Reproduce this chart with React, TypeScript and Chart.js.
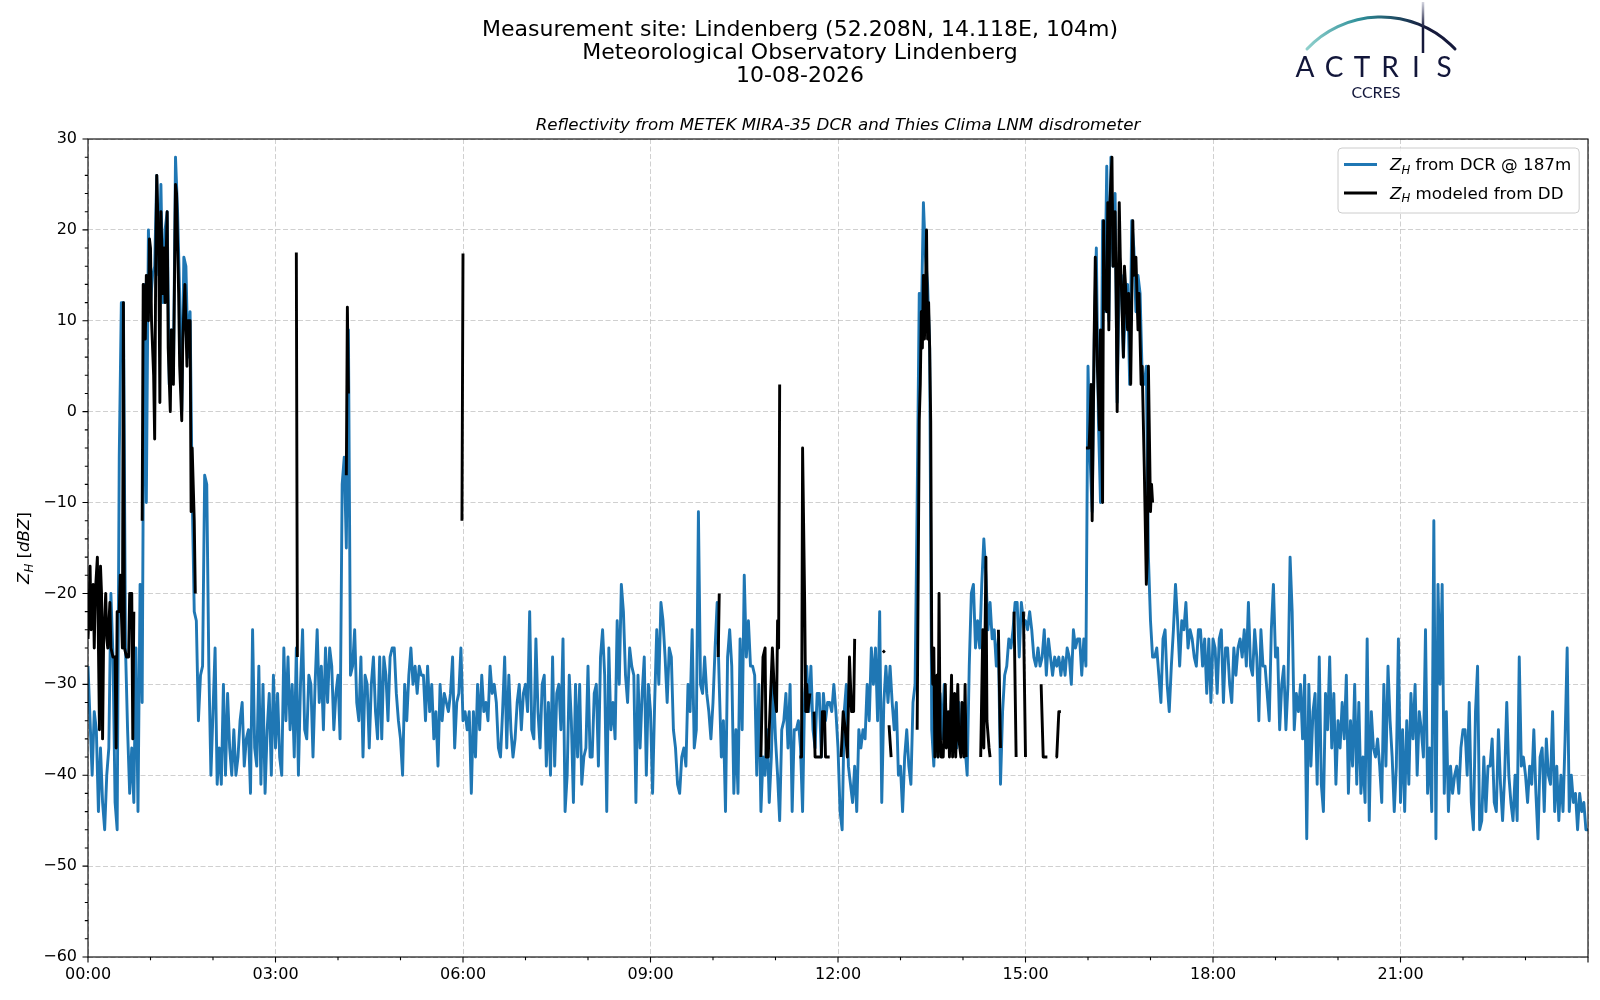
import React, { useEffect, useRef } from 'react';
import { Chart, registerables } from 'chart.js';

Chart.register(...registerables);

// Z_H from the DCR at 187 m, one value every 2 minutes from 00:00 (dBZ)
const dcrStepMin = 2;
const dcrZh = [
  // 00h
  -28, -34, -40, -33, -35, -44, -37, -43, -46, -40, -37, -20, -27, -43, -46, -5, 12, 12, -26, -35, -42, -37, -43, -26, -44, -19, -32, 14, -10, 20,
  // 01h
  12, 15, 16, 26, 15, 25, 12, 20, 22, 3, 9, 4, 28, 22, 13, 0, 17, 16, 6, 11, -9, -22, -23, -34, -29, -28, -7, -8, -28, -40,
  // 02h
  -33, -26, -41, -37, -41, -30, -40, -31, -37, -40, -35, -40, -38, -34, -32, -39, -36, -35, -42, -24, -37, -39, -28, -41, -30, -42, -35, -31, -40, -29,
  // 03h
  -37, -31, -38, -40, -26, -34, -27, -35, -30, -38, -26, -40, -30, -24, -35, -36, -29, -30, -38, -30, -24, -32, -28, -35, -26, -32, -26, -28, -35, -31,
  // 04h
  -29, -36, -8, -5, -15, 9, -29, -28, -24, -32, -34, -27, -38, -29, -30, -37, -30, -27, -33, -36, -27, -36, -27, -29, -34, -27, -26, -26, -31, -34,
  // 05h
  -36, -40, -30, -34, -29, -26, -30, -28, -31, -28, -29, -29, -34, -28, -33, -30, -36, -33, -39, -30, -34, -31, -32, -33, -31, -27, -37, -32, -31, -26,
  // 06h
  -34, -33, -35, -33, -42, -33, -38, -30, -35, -29, -33, -32, -34, -28, -31, -30, -32, -37, -38, -33, -27, -37, -29, -35, -38, -36, -32, -30, -35, -31,
  // 07h
  -30, -33, -22, -35, -36, -25, -33, -37, -30, -29, -39, -32, -40, -27, -39, -31, -30, -35, -25, -44, -40, -29, -34, -43, -30, -38, -30, -41, -38, -37,
  // 08h
  -28, -38, -38, -31, -30, -39, -27, -24, -29, -44, -26, -35, -32, -36, -23, -30, -19, -22, -29, -32, -26, -28, -29, -43, -29, -37, -31, -27, -40, -30,
  // 09h
  -33, -42, -32, -24, -30, -21, -23, -27, -32, -26, -27, -35, -37, -41, -42, -38, -37, -39, -30, -33, -24, -37, -35, -11, -30, -31, -27, -31, -33, -36,
  // 10h
  -32, -26, -21, -30, -38, -34, -44, -27, -24, -28, -42, -35, -42, -25, -35, -18, -27, -23, -28, -28, -29, -40, -30, -44, -38, -40, -35, -43, -38, -30,
  // 11h
  -36, -40, -45, -35, -34, -31, -37, -30, -44, -35, -35, -34, -37, -44, -31, -28, -33, -28, -35, -37, -31, -31, -38, -31, -34, -32, -32, -33, -30, -33,
  // 12h
  -37, -44, -46, -33, -30, -39, -41, -43, -39, -44, -35, -37, -35, -36, -30, -34, -26, -30, -26, -34, -22, -43, -32, -28, -32, -28, -32, -35, -32, -40,
  // 13h
  -39, -44, -38, -35, -39, -41, -32, -30, -10, 13, 10, 23, 17, 14, 7, -35, -39, -30, -38, -31, -36, -30, -34, -36, -33, -33, -32, -37, -32, -37,
  // 14h
  -34, -37, -40, -28, -20, -19, -26, -23, -26, -19, -14, -18, -24, -21, -25, -24, -28, -25, -41, -33, -29, -28, -25, -26, -24, -21, -21, -27, -21, -23,
  // 15h
  -23, -24, -22, -24, -27, -28, -26, -28, -27, -24, -29, -25, -27, -29, -27, -28, -27, -29, -27, -29, -26, -27, -30, -24, -26, -25, -25, -29, -25, -28,
  // 16h
  5, -5, -11, 8, 18, -1, -10, 21, 11, 27, 10, 28, 16, 24, 1, 15, 15, 6, 12, 14, 3, 21, 18, 11, 15, 13, 4, 3, 5, -16,
  // 17h
  -23, -27, -27, -26, -29, -32, -25, -24, -30, -33, -28, -24, -19, -23, -28, -23, -24, -21, -26, -24, -25, -27, -28, -24, -24, -28, -25, -31, -25, -32,
  // 18h
  -25, -26, -31, -25, -24, -32, -26, -26, -30, -32, -26, -29, -26, -25, -27, -24, -28, -21, -28, -29, -24, -27, -34, -24, -28, -28, -31, -34, -24, -19,
  // 19h
  -27, -26, -35, -30, -28, -35, -30, -16, -22, -35, -31, -33, -30, -36, -29, -47, -30, -39, -33, -31, -41, -27, -41, -44, -31, -35, -27, -37, -31, -41,
  // 20h
  -34, -37, -32, -36, -29, -42, -34, -39, -30, -41, -32, -42, -38, -43, -25, -45, -33, -37, -38, -36, -39, -43, -30, -39, -28, -34, -38, -44, -39, -25,
  // 21h
  -43, -35, -44, -34, -41, -31, -36, -30, -40, -33, -35, -38, -24, -42, -37, -44, -12, -47, -19, -30, -19, -42, -33, -44, -39, -42, -40, -39, -42, -37,
  // 22h
  -35, -35, -40, -32, -43, -46, -33, -28, -46, -45, -38, -44, -39, -39, -36, -43, -44, -35, -41, -45, -40, -32, -40, -43, -45, -40, -45, -27, -39, -38,
  // 23h
  -40, -43, -39, -41, -35, -42, -47, -38, -37, -44, -36, -40, -41, -33, -44, -39, -45, -40, -44, -36, -26, -44, -40, -43, -42, -46, -42, -44, -43, -46, -46,
];

// Z_H modeled from the disdrometer: minute of day and value, null = no rain
const ddMinutes = [
  0, 1, 2, 3, 5, 6, 7, 9, 11, 12, 13, 14, 15, 17, 18, 19, 21, 22, 24, 26, 27, 28, 30, 31, 33, 34, 35, 37, 39, 40, 42, 43, 44, 45,
  52, 53, 55, 56, 58, 59, 60, 61, 63, 64, 65, 66, 68, 69, 70, 72, 73, 74, 76, 77, 79, 80, 81, 82, 84, 85, 87, 88, 90, 91, 93, 95, 96, 98, 99, 100, 102, 103, 104,
  200, 201, 202,
  248, 249, 250, 251,
  359, 360, 361,
  605, 606, 607,
  646, 648, 650, 651, 653, 657, 659, 661, 662, 663, 664, 665,
  683, 685, 686, 688, 689, 690, 691, 693, 694,
  697, 698, 704, 705, 707, 708, 712, 713,
  723, 725, 727, 729, 731, 733, 735, 736, 737,
  763, 765, 766,
  769, 771, 772,
  796, 798, 799, 800, 801, 802, 803, 804, 805, 806, 807, 808, 809, 810, 811, 812, 813, 814, 815, 816, 817, 818, 819, 821, 823, 824, 826, 827, 829, 830, 832, 833, 835, 836, 838, 839, 841, 842, 843, 844,
  857, 859, 860, 862, 863, 865, 866, 867,
  874, 876, 877,
  889, 891, 892,
  898, 900, 901,
  915, 917, 921, 922,
  929, 930, 932, 934, 935,
  958, 961, 962, 963, 964, 966, 967, 969, 971, 972, 974, 975, 976, 978, 979, 980, 981, 983, 984, 986, 987, 988, 990, 991, 992, 994, 995, 996, 998, 999, 1000, 1001, 1003, 1004, 1006, 1008, 1009, 1011, 1012, 1014, 1016, 1017, 1018, 1020, 1021, 1022, 1023,
];
const ddZh = [
  -25, -22, -17, -24, -19, -26, -20, -16, -35, -17, -20, -36, -25, -20, -25, -26, -21, -26, -27, -27, -37, -22, -22, -18, -26, 12, -26, -27, -27, -20, -20, -36, -22, null,
  -12, 14, 8, 15, 10, 19, 18, 10, 4, -3, 16, 26, 17, 1, 22, 13, 18, 12, 22, 7, 0, 9, 4, 3, 25, 24, 13, 5, -1, 8, 14, 5, 10, 10, -11, -4, -12, -20, null,
  17.5, -27, null,
  -7, 11.5, 2, null,
  -12, 17.4, null,
  -27, -20, null,
  -38, -27, -26, -38, -38, -26, -31, -33, -23, -26, 3, null,
  -38, -38, -4, -21, -33, -30, -33, -31, null,
  -33, -38, -38, -33, -33, -38, -38, null,
  -38, -33, -35, -38, -27, -33, -33, -25, null,
  -26.5, -26.3, null,
  -34.5, -38, null,
  -35, -1, 3, 11, 7, 15, 8, 13, 20, 8, 12, 7, -1, -26, -30, -26, -38, -34, -29, -38, -20, -35, -38, -38, -30, -37, -33, -38, -29, -38, -31, -38, -30, -36, -38, -32, -38, -30, -38, null,
  -38, -24, -37, -16, -34, -37, -38, null,
  -24, -37, null,
  -22, -38, null,
  -22, -38, null,
  -30, -38, -38, null,
  -38, -38, -33, -33, null,
  -4, -4, -1, 3, -12, 9, 17, 5, -2, 9, -10, 21, 12, 11, 23, 9, 23, 28, 16, 22, 13, 0, 23, 17, 14, 6, 16, 14, 9, 13, 9, 3, 21, 15, 17, 9, 13, 3, 5, -6, -19, -16, 5, -11, -8, -10, null,
];

const titleLines = [
  'Measurement site: Lindenberg (52.208N, 14.118E, 104m)',
  'Meteorological Observatory Lindenberg',
  '10-08-2026',
];
const subTitle = 'Reflectivity from METEK MIRA-35 DCR and Thies Clima LNM disdrometer';
const dcrLabel = ' from DCR @ 187m';
const ddLabel = ' modeled from DD';

const BLUE = '#1f77b4';
const FONT = '"DejaVu Sans"';
const LW = 2.9;

type Part = { t: string; it?: boolean; sub?: boolean };

// small mathtext-like writer: italic and subscript pieces on one baseline
function drawParts(ctx: CanvasRenderingContext2D, parts: Part[], x: number, y: number, size: number, draw = true) {
  let cx = x;
  for (const p of parts) {
    const s = p.sub ? size * 0.7 : size;
    ctx.font = `${p.it ? 'italic ' : ''}${s}px ${FONT}`;
    if (draw) ctx.fillText(p.t, cx, p.sub ? y + size * 0.22 : y);
    cx += ctx.measureText(p.t).width;
  }
  return cx - x;
}

function drawLogo(ctx: CanvasRenderingContext2D) {
  ctx.save();
  const cx = 1381;
  const cy = 118.6;
  const r = 101.6;
  const a1 = Math.atan2(49 - cy, 1307 - cx);
  const a2 = Math.atan2(49 - cy, 1455 - cx);
  const g = ctx.createLinearGradient(1307, 0, 1425, 0);
  g.addColorStop(0, '#8fd0cc');
  g.addColorStop(0.45, '#2e8f99');
  g.addColorStop(1, '#15193b');
  ctx.strokeStyle = g;
  ctx.lineWidth = 3;
  ctx.lineCap = 'round';
  ctx.beginPath();
  ctx.arc(cx, cy, r, a1, a2);
  ctx.stroke();

  const g2 = ctx.createLinearGradient(0, 2, 0, 28);
  g2.addColorStop(0, '#d4d5e0');
  g2.addColorStop(1, '#15193b');
  ctx.strokeStyle = g2;
  ctx.lineWidth = 2.5;
  ctx.lineCap = 'butt';
  ctx.beginPath();
  ctx.moveTo(1423, 2);
  ctx.lineTo(1423, 53);
  ctx.stroke();

  ctx.fillStyle = '#12163a';
  ctx.textAlign = 'center';
  ctx.textBaseline = 'alphabetic';
  ctx.font = '28px Lato';
  const letters: [string, number][] = [['A', 1305], ['C', 1334], ['T', 1362], ['R', 1390], ['I', 1416], ['S', 1444]];
  letters.forEach(([c, x]) => ctx.fillText(c, x, 77));
  ctx.font = '16px Lato';
  ctx.fillText('CCRES', 1376, 98);
  ctx.restore();
}

const decorPlugin = {
  id: 'decor',
  afterDraw(chart: any) {
    const { ctx, chartArea: a, scales } = chart;
    const xs = scales.x;
    const ys = scales.y;
    ctx.save();

    // frame on all four sides
    ctx.strokeStyle = '#000';
    ctx.lineWidth = 1.1;
    ctx.strokeRect(a.left, a.top, a.right - a.left, a.bottom - a.top);

    // major + minor ticks, outside
    ctx.beginPath();
    for (let m = 0; m <= 1440; m += 60) {
      const x = xs.getPixelForValue(m);
      const len = m % 180 === 0 ? 5.5 : 3.2;
      ctx.moveTo(x, a.bottom);
      ctx.lineTo(x, a.bottom + len);
    }
    for (let v = -60; v <= 30; v += 2) {
      const y = ys.getPixelForValue(v);
      const len = v % 10 === 0 ? 5.5 : 3.2;
      ctx.moveTo(a.left, y);
      ctx.lineTo(a.left - len, y);
    }
    ctx.stroke();

    // titles
    ctx.fillStyle = '#000';
    ctx.textAlign = 'center';
    ctx.textBaseline = 'alphabetic';
    ctx.font = `22px ${FONT}`;
    titleLines.forEach((t, i) => ctx.fillText(t, 800, 36 + i * 22.8));
    ctx.font = `italic 16.7px ${FONT}`;
    ctx.fillText(subTitle, (a.left + a.right) / 2, 130);

    // y axis label, Z_H [dBZ]
    ctx.textAlign = 'left';
    const yl: Part[] = [{ t: 'Z', it: true }, { t: 'H', it: true, sub: true }, { t: ' [' }, { t: 'dBZ', it: true }, { t: ']' }];
    ctx.save();
    ctx.translate(29, (a.top + a.bottom) / 2);
    ctx.rotate(-Math.PI / 2);
    const w = drawParts(ctx, yl, 0, 0, 16.7, false);
    drawParts(ctx, yl, -w / 2, 0, 16.7);
    ctx.restore();

    // legend
    const fs = 16.7;
    const e1: Part[] = [{ t: 'Z', it: true }, { t: 'H', it: true, sub: true }, { t: dcrLabel }];
    const e2: Part[] = [{ t: 'Z', it: true }, { t: 'H', it: true, sub: true }, { t: ddLabel }];
    const tx = 1390;
    const tw = Math.max(drawParts(ctx, e1, 0, 0, fs, false), drawParts(ctx, e2, 0, 0, fs, false));
    const bx = 1338;
    const by = 148;
    const bw = tx - bx + tw + 8;
    const bh = 65;
    ctx.beginPath();
    ctx.roundRect(bx, by, bw, bh, 4);
    ctx.fillStyle = 'rgba(255,255,255,0.8)';
    ctx.fill();
    ctx.strokeStyle = '#cccccc';
    ctx.lineWidth = 1;
    ctx.stroke();
    const rows: [Part[], string, number][] = [[e1, BLUE, 164.5], [e2, '#000', 193]];
    rows.forEach(([parts, col, y]) => {
      ctx.strokeStyle = col;
      ctx.lineWidth = LW;
      ctx.beginPath();
      ctx.moveTo(1344, y);
      ctx.lineTo(1377, y);
      ctx.stroke();
      ctx.fillStyle = '#000';
      drawParts(ctx, parts, tx, y + 5.5, fs);
    });

    drawLogo(ctx);
    ctx.restore();
  },
};

const pad2 = (n: number) => String(n).padStart(2, '0');

export default function App() {
  const canvasRef = useRef<HTMLCanvasElement | null>(null);

  useEffect(() => {
    if (!canvasRef.current) return;
    const dcrPoints = dcrZh.map((v, i) => ({ x: i * dcrStepMin, y: v }));
    const ddPoints = ddMinutes.map((m, i) => ({ x: m, y: ddZh[i] }));

    const chart = new Chart(canvasRef.current, {
      type: 'line',
      data: {
        datasets: [
          {
            label: 'DD',
            data: ddPoints,
            borderColor: '#000',
            backgroundColor: '#000',
            borderWidth: LW,
            pointRadius: 0,
            tension: 0,
            spanGaps: false,
            borderJoinStyle: 'round',
            order: 0,
          },
          {
            label: 'DCR',
            data: dcrPoints,
            borderColor: BLUE,
            backgroundColor: BLUE,
            borderWidth: LW,
            pointRadius: 0,
            tension: 0,
            borderJoinStyle: 'round',
            order: 1,
          },
        ] as any,
      },
      options: {
        responsive: false,
        animation: false,
        layout: { padding: { left: 0, right: 12, top: 139, bottom: 0 } },
        plugins: {
          legend: { display: false },
          title: { display: false },
          tooltip: { enabled: false },
        },
        scales: {
          x: {
            type: 'linear',
            min: 0,
            max: 1440,
            afterFit: (s: any) => {
              s.height = 43;
            },
            ticks: {
              stepSize: 180,
              autoSkip: false,
              maxRotation: 0,
              padding: 8,
              color: '#000',
              font: { family: 'DejaVu Sans', size: 16 },
              callback: (v: any) => (v >= 1440 ? '' : `${pad2(Math.round(v / 60))}:00`),
            },
            grid: { color: 'rgba(170,170,170,0.55)', lineWidth: 1, drawTicks: false },
            border: { display: false, dash: [5, 2.5] },
          },
          y: {
            min: -60,
            max: 30,
            afterFit: (s: any) => {
              s.width = 88;
            },
            ticks: {
              stepSize: 10,
              padding: 11,
              color: '#000',
              font: { family: 'DejaVu Sans', size: 16 },
              callback: (v: any) => (v < 0 ? `\u2212${Math.abs(v)}` : `${v}`),
            },
            grid: { color: 'rgba(170,170,170,0.55)', lineWidth: 1, drawTicks: false },
            border: { display: false, dash: [5, 2.5] },
          },
        },
      },
      plugins: [decorPlugin],
    });

    return () => {
      chart.destroy();
    };
  }, []);

  return (
    <div style={{ position: 'absolute', left: 0, top: 0, width: 1600, height: 1000, background: '#fff' }}>
      <canvas ref={canvasRef} width={1600} height={1000} style={{ display: 'block', width: 1600, height: 1000 }} />
    </div>
  );
}
